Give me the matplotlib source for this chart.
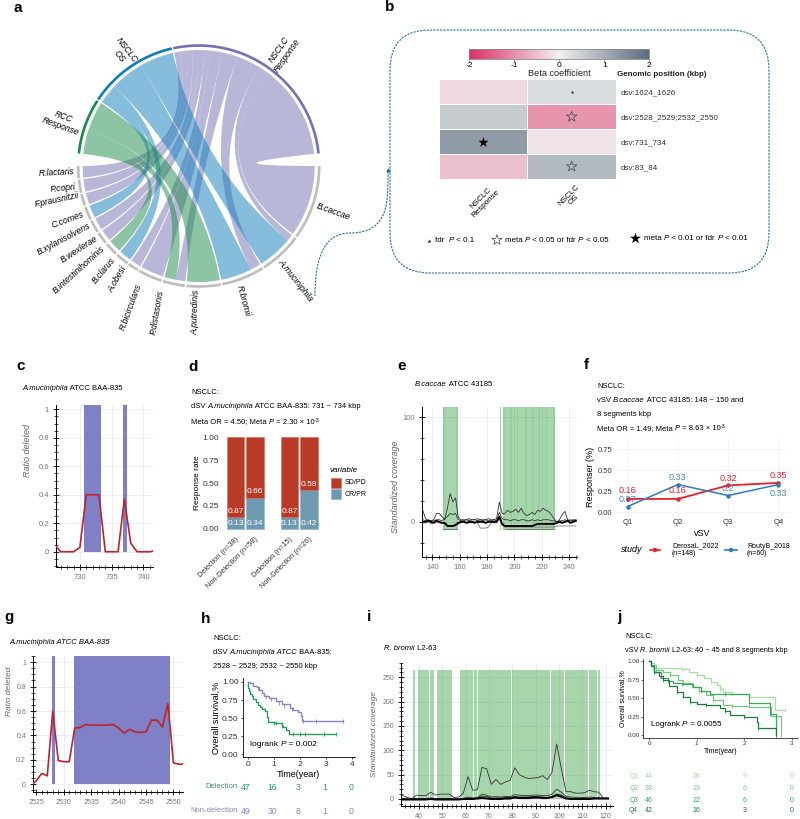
import numpy as np
import matplotlib
matplotlib.use('Agg')
import matplotlib.pyplot as plt
from matplotlib.colors import LinearSegmentedColormap
from matplotlib.patches import PathPatch, FancyBboxPatch
from matplotlib.path import Path
from matplotlib.ticker import MultipleLocator

plt.rcParams['font.family'] = ['Liberation Sans', 'DejaVu Sans']
plt.rcParams['font.size'] = 6
plt.rcParams['axes.unicode_minus'] = False

# ---- datos panel a: (estudio, ancho en la especie, ancho en el estudio)
species = ['B.caccae', 'A.muciniphila', 'R.bromii', 'A.putredinis', 'P.distasonis', 'R.bicirculans',
           'A.obesi', 'B.clarus', 'B.intestinihominis', 'B.wexlerae', 'B.xylanisolvens', 'C.comes',
           'F.prausnitzii', 'P.copri', 'R.lactaris']
species_links = [[('NR', 37, 48)], [('NR', 3.5, 5), ('OS', 18, 17)], [('NR', 5.5, 12), ('OS', 16, 17)], [('RCC', 17, 15)],
                 [('NR', 5, 8), ('RCC', 6, 6)], [('NR', 12, 6)], [('NR', 5.4, 3)], [('OS', 6.6, 5)], [('RCC', 6.6, 6)],
                 [('NR', 6.1, 3)], [('NR', 6.3, 3)], [('OS', 6.6, 5)], [('NR', 5.9, 3)], [('NR', 6.5, 3)], [('NR', 6, 3)]]
studies = ['RCC', 'OS', 'NR']
study_names = {'RCC': 'RCC\nResponse', 'OS': 'NSCLC\nOS', 'NR': 'NSCLC\nResponse'}

# ---- datos panel b
b_rows = ['dsv:1624_1626', 'dsv:2528_2529;2532_2550', 'dsv:731_734', 'dsv:83_84']
b_cols = ['NSCLC\nResponse', 'NSCLC\nOS']
b_beta = [[-0.25, 0.3], [0.55, -0.95], [1.25, -0.13], [-0.5, 0.8]]

# ---- datos panel c
c_x = [726, 727, 728, 729, 730, 731, 732, 733, 734, 735, 736, 737, 738, 739, 740, 741, 742]
c_y = [0.05, 0, 0, 0, 0.03, 0.4, 0.4, 0.4, 0, 0, 0, 0.37, 0.06, 0, 0, 0, 0.01]
c_spans = [(730.7, 733.3), (736.75, 737.4)]

# ---- datos panel d
d_groups = ['Delection (n=38)', 'Non-Delection (n=58)', 'Delection (n=15)', 'Non-Delection (n=26)']
d_crpr = [0.13, 0.34, 0.13, 0.42]
d_sdpd = [0.87, 0.66, 0.87, 0.58]

# ---- datos panel e
e_x = list(range(133, 246, 2))
e_upper = [11, 3, 1, 1, 2, 8, 8, 5, 2, 13, 27, 19, 23, 4, 2, 2, 2, 3, 2, 2, 3, 2, 2, 2, 3, 2, 2, 3,
           19, 8, 8, 11, 9, 10, 12, 9, 13, 8, 6, 7, 9, 7, 11, 10, 13, 11, 10, 7, 3, 0, 2, 7, 10, 2, 1, 2, 2]
e_mid = [2, 1, 2, 1, 1, 2, 2, 1, 3, 5, 8, 7, 8, 2, 1, 1, 2, 1, 2, 2, 1, 2, 1, 2, 1, 1, 2, 1,
         9, 3, 2, 2, 1, 2, 2, 1, 2, 2, 1, 1, 2, 1, 2, 1, 2, 2, 2, 1, 1, 0, 1, 1, 2, 1, 2, 1, 1]
e_low = [-1, -1, 0, -2, -1, 0, -1, -1, -2, -3, -4, -4, -4, -2, -1, 0, -1, -1, -1, 0, -1, -6, -6, -6, -5, -1, -1, -1,
         3, -3, -5, -5, -5, -5, -5, -5, -5, -5, -5, -5, -5, -5, -5, -5, -5, -5, -5, -5, -5, -4, -4, -4, -4, -4, -4, -4, -4]
e_thick = [0, 0, 1, 0, -1, 1, 0, -1, -1, -4, -4, -4, -3, -1, 0, 0, -1, 0, 0, -1, 0, 0, 0, -1, 0, 0, 0, 0,
           5, -2, -4, -4, -4, -4, -4, -4, -4, -4, -4, -4, -4, -3, -2, -2, -2, -2, -2, -2, -2, -1, 0, -1, 0, 1, -1, 0, 1]
e_floor_x = [148, 158, np.nan, 193, 229]
e_floor_y = [-7, -7, np.nan, -7, -7]
e_spans = [(147.7, 158.4), (189.5, 190), (192, 229.7)]
e_stripes = [(192, 193), (197, 198), (202, 203), (208, 209), (213, 214), (217, 219), (223, 224), (228, 229.7),
             (148, 149), (157, 158.4)]

# ---- datos panel f
f_q = ['Q1', 'Q2', 'Q3', 'Q4']
f_derosa = [0.16, 0.16, 0.32, 0.35]
f_routy = [0.07, 0.33, 0.2, 0.33]
f_derosa_txt = ['0.16', '0.16', '0.32', '0.35']
f_routy_txt = ['0.07', '0.33', '0.2', '0.33']

# ---- datos panel g
g_x = [2524.5] + list(range(2525, 2553))
g_y = [0.01, 0.03, 0.09, 0.07, 0.60, 0.195, 0.185, 0.185, 0.46, 0.465, 0.49, 0.485, 0.485, 0.485, 0.485,
       0.49, 0.46, 0.42, 0.45, 0.43, 0.425, 0.43, 0.525, 0.525, 0.47, 0.66, 0.175, 0.165, 0.165]
g_spans = [(2527.8, 2528.35), (2531.8, 2549.3)]

# ---- datos panel h
h_del_t = [0, 0.03, 0.06, 0.09, 0.15, 0.22, 0.3, 0.38, 0.47, 0.55, 0.66, 0.72, 0.79, 1.0, 1.23, 1.3, 1.36, 1.45, 1.59, 2.5, 3.36]
h_del_s = [1, 0.91, 0.87, 0.84, 0.8, 0.77, 0.72, 0.68, 0.65, 0.63, 0.6, 0.52, 0.44, 0.435, 0.425, 0.39, 0.37, 0.33, 0.28, 0.28, 0.28]
h_non_t = [0, 0.1, 0.2, 0.34, 0.45, 0.55, 0.62, 0.8, 1.1, 1.3, 1.6, 1.75, 1.93, 2.02, 2.06, 3.0, 3.65]
h_non_s = [1, 0.98, 0.95, 0.93, 0.89, 0.85, 0.81, 0.78, 0.73, 0.69, 0.64, 0.61, 0.58, 0.53, 0.46, 0.46, 0.46]
h_del_cens = [1.0, 1.1, 1.3, 1.75, 2.0, 2.2, 2.9, 3.36]
h_non_cens = [0.4, 0.7, 0.9, 1.2, 1.4, 1.7, 2.1, 2.6, 3.65]
h_at_risk_t = [0, 1, 2, 3, 4]
h_at_risk_del = [47, 16, 3, 1, 0]
h_at_risk_non = [49, 30, 8, 1, 0]

# ---- datos panel i
i_x = list(range(33, 122, 2))
i_a = [7, 3, 1, 8, 7, 7, 14, 8, 10, 10, 10, 3, 4, 12, 46, 18, 19, 65, 62, 30, 40, 30, 35, 38, 64, 50, 45, 42, 43, 44,
       48, 40, 55, 113, 62, 15, 15, 12, 12, 13, 18, 15, 14, 2, 2]
i_b = [1, 0, 0, 1, 1, 1, 2, 1, 1, 1, 1, 0, 0, 1, 4, 2, 3, 10, 8, 4, 5, 4, 5, 5, 9, 8, 7, 7, 8, 8, 7, 7, 10, 20, 14, 5, 4, 3, 3, 3, 4, 3, 3, 1, 1]
i_c = [0, 0, 0, 0, 0, 1, 1, 0, 1, 0, 1, 0, 0, 1, 2, 1, 2, 6, 5, 2, 2, 2, 3, 3, 5, 4, 4, 4, 5, 5, 4, 3, 5, 10, 8, 2, 1, 1, 1, 1, 1, 1, 1, 1, 1]
i_thick = [-1, -1, -1, -1, -1, -1, 0, -1, -1, -1, -1, -1, -1, 0, 0, 0, 1, 2, 1, 0, 0, 0, 1, 1, 3, 2, 2, 2, 3, 3, 2, 2, 4, 8, 5, 1, 0, 0, 0, 0, 0, 1, 1, 1, 1]
i_spans = [(37.4, 38.3), (39.6, 44.3), (44.6, 46.3), (47.6, 54.3), (57.6, 62.1), (62.4, 63.3), (63.6, 65),
           (65.3, 79.4), (79.7, 96.1), (96.6, 102.1), (102.6, 112.6), (112.9, 116.4), (116.7, 117.4)]

# ---- datos panel j
j_t1 = [0, 0.05, 0.1, 0.2, 0.7, 0.85, 1.0, 1.15, 1.3, 1.42, 1.5, 1.56, 1.75, 2.1, 2.6, 2.64, 2.85]
j_s1 = [1, 0.97, 0.91, 0.905, 0.90, 0.86, 0.81, 0.77, 0.72, 0.68, 0.62, 0.585, 0.55, 0.52, 0.52, 0.34, 0.34]
j_t2 = [0, 0.05, 0.15, 0.3, 0.44, 0.6, 0.72, 0.9, 1.05, 1.2, 1.35, 1.56, 1.75, 2.1, 2.55, 2.57, 2.78, 2.78]
j_s2 = [1, 0.95, 0.88, 0.85, 0.81, 0.75, 0.70, 0.65, 0.6, 0.54, 0.48, 0.405, 0.39, 0.385, 0.385, 0.26, 0.26, 0]
j_t3 = [0, 0.05, 0.1, 0.25, 0.4, 0.5, 0.7, 0.93, 1.1, 1.28, 1.6, 2.05, 2.1, 2.5, 2.55, 2.66, 2.66]
j_s3 = [1, 0.93, 0.85, 0.77, 0.73, 0.70, 0.69, 0.65, 0.6, 0.56, 0.555, 0.55, 0.44, 0.44, 0.29, 0.29, 0]
j_t4 = [0, 0.05, 0.1, 0.2, 0.3, 0.42, 0.58, 0.72, 0.86, 1.0, 1.2, 1.49, 1.6, 1.7, 2.0, 2.26, 2.3, 2.64, 2.66]
j_s4 = [1, 0.93, 0.85, 0.80, 0.75, 0.66, 0.58, 0.52, 0.45, 0.42, 0.40, 0.36, 0.33, 0.27, 0.25, 0.18, 0.09, 0.09, 0]
j_cols = ['#a3e0a0', '#72c87e', '#35a95c', '#1c7c3e']
j_names = ['Q1', 'Q2', 'Q3', 'Q4']
j_at_risk_t = [0, 1, 2, 3]
j_at_risk = [[44, 28, 9, 0], [33, 19, 6, 0], [46, 22, 6, 0], [42, 16, 3, 0]]

W, H = 800, 819
fig = plt.figure(figsize=(W / 100, H / 100), dpi=100)

# capa de fondo en pixeles
ov = fig.add_axes([0, 0, 1, 1])
ov.set_xlim(0, W)
ov.set_ylim(H, 0)
ov.axis('off')


def px_axes(l, t, r, b):
    return fig.add_axes([l / W, 1 - b / H, (r - l) / W, (b - t) / H], facecolor='none')


def txt(x, y, s, **kw):
    kw.setdefault('va', 'center')
    kw.setdefault('ha', 'left')
    return ov.text(x, y, s, **kw)


def text_w(s, **kw):
    # ancho de s con sus espacios: se mide entre dos letras
    r = fig.canvas.get_renderer()
    a = ov.text(0, 0, 'x' + s + 'x', **kw)
    b = ov.text(0, 0, 'xx', **kw)
    w = a.get_window_extent(r).width - b.get_window_extent(r).width
    a.remove()
    b.remove()
    return w


def rich(x, y, parts, fontsize=5.5):
    # parts: trozos de una linea; 'i' = cursiva, 's' = superindice
    for s, kind in parts:
        kw = {'fontsize': fontsize}
        dy = 0
        if kind == 'i':
            kw['style'] = 'italic'
        if kind == 's':
            kw['fontsize'] = fontsize * 0.7
            dy = -2
        txt(x, y + dy, s, **kw)
        x += text_w(s, **kw)


for lab, x, y in [('a', 13, 8), ('b', 385, 7), ('c', 16, 366), ('d', 188, 367), ('e', 397, 366), ('f', 584, 365),
                  ('g', 4, 617), ('h', 201, 619), ('i', 367, 617), ('j', 617, 617)]:
    txt(x, y, lab, fontsize=11, fontweight='bold')

# ---- a: diagrama de cuerdas
cx, cy = 198.7, 166
r_in, r_arc = 116, 120.5
GAP = 0.7
study_col = {'RCC': '#1a8a4a', 'OS': '#0f7cbc', 'NR': '#7570b3'}


def polar(ang, r):
    a = np.radians(ang)
    return cx + r * np.cos(a), cy + r * np.sin(a)


def arc_pts(a0, a1, r):
    return [polar(a, r) for a in np.linspace(a0, a1, 30)]


sp_tot = sum(l[1] for ls in species_links for l in ls)
sp_scale = (180 - GAP * (len(species) - 1)) / sp_tot
ang = 0
sp_arcs, link_ends = [], []
for name, ls in zip(species, species_links):
    a0 = ang
    for st, w, wt in ls:
        link_ends.append([name, st, ang, ang + w * sp_scale, wt])
        ang += w * sp_scale
    sp_arcs.append((a0, ang))
    ang += GAP

st_tot = {s: sum(l[2] for ls in species_links for l in ls if l[0] == s) for s in studies}
st_scale = (168 - GAP * 2) / sum(st_tot.values())
ang = 186
st_arcs = {}
for s in studies:
    st_arcs[s] = (ang, ang + st_tot[s] * st_scale)
    ang += st_tot[s] * st_scale + GAP

# cada estudio se reparte al reves que las especies para que las cintas no se retuerzan
for s in studies:
    pos = st_arcs[s][0]
    for le in reversed(link_ends):
        if le[1] == s:
            le.extend([pos, pos + le[4] * st_scale])
            pos += le[4] * st_scale

for s in ['NR', 'OS', 'RCC']:
    for name, st, s0, s1, wt, t0, t1 in link_ends:
        if st != s:
            continue
        a = arc_pts(s0, s1, r_in)
        b = arc_pts(t0, t1, r_in)
        verts = a + [(cx, cy)] + b + [(cx, cy), a[0]]
        codes = [Path.MOVETO] + [Path.LINETO] * (len(a) - 1) + [Path.CURVE3, Path.CURVE3] + \
                [Path.LINETO] * (len(b) - 1) + [Path.CURVE3, Path.CURVE3]
        ov.add_patch(PathPatch(Path(verts, codes), fc=study_col[s], alpha=0.5, lw=0, zorder=2))

for a0, a1 in sp_arcs:
    pts = np.array(arc_pts(a0, a1, r_arc))
    ov.plot(pts[:, 0], pts[:, 1], color='#bdbdbd', lw=1.9, solid_capstyle='butt', zorder=3)
for s in studies:
    pts = np.array(arc_pts(st_arcs[s][0], st_arcs[s][1], r_arc))
    ov.plot(pts[:, 0], pts[:, 1], color=study_col[s], lw=1.9, solid_capstyle='butt', zorder=3)

sp_lab_pos = [(333, 212, -20), (296, 280, -52), (243, 301, -75), (196, 312, 88), (157, 312, 80), (131, 307, 70),
              (117, 279, 60), (104, 270, 50), (79, 270, 42), (79, 249, 33), (64, 239, 28), (68, 220, 20),
              (57, 200, 12), (63, 188, 6), (57, 173, 3)]
for name, (x, y, rot) in zip(species, sp_lab_pos):
    txt(x, y, name, rotation=rot, ha='center', style='italic', fontsize=6.2, rotation_mode='anchor')
for s, (x, y, rot) in zip(studies, [(62, 122, -20), (123, 53, -52), (283, 53, 55)]):
    txt(x, y, study_names[s], rotation=rot, ha='center', style='italic', fontsize=6.2, rotation_mode='anchor',
        linespacing=1.2)

# ---- b: recuadro punteado y mapa de calor
box_col = '#2f6da8'
ov.add_patch(FancyBboxPatch((430, 70), 299, 163, boxstyle='round,pad=40,rounding_size=40', fc='none', ec=box_col,
                            lw=0.8, ls=(0, (2, 1))))
conn = Path([(315, 296), (315, 262), (322, 233), (350, 233), (390, 233), (388, 200), (388, 170)],
            [Path.MOVETO, Path.CURVE4, Path.CURVE4, Path.CURVE4, Path.CURVE4, Path.CURVE4, Path.CURVE4])
ov.add_patch(PathPatch(conn, fc='none', ec=box_col, lw=0.8, ls=(0, (2, 1))))
ov.scatter([388], [170], s=4, color=box_col, marker='^')

beta_cmap = LinearSegmentedColormap.from_list('beta', ['#dc2f63', '#f0f0f0', '#5a6a7e'])
ax = px_axes(438.7, 79.3, 616, 179)
mesh = ax.pcolormesh(np.array(b_beta), cmap=beta_cmap, vmin=-2, vmax=2, edgecolors='white', linewidth=0.4)
ax.set_ylim(4, 0)
ax.set_xticks([0.5, 1.5])
ax.set_xticklabels(b_cols, rotation=45, ha='center', va='top', fontsize=5.8, linespacing=1.0)
ax.set_yticks(np.arange(4) + 0.5)
ax.set_yticklabels(b_rows, fontsize=5.8, color='#333333')
ax.yaxis.tick_right()
ax.tick_params(length=0, pad=3)
for sp in ax.spines.values():
    sp.set_visible(False)
ax.scatter([1.5], [0.5], marker='*', s=7, color='#222222', lw=0)
ax.scatter([1.5, 1.5], [1.5, 3.5], marker='*', s=62, facecolor='none', edgecolor='#444444', lw=0.5)
ax.scatter([0.5], [2.5], marker='*', s=62, color='black', lw=0)

cax = px_axes(469.3, 48.7, 649.3, 59)
cb = fig.colorbar(mesh, cax=cax, orientation='horizontal')
cb.set_ticks([-2, -1, 0, 1, 2])
cb.ax.tick_params(labelsize=6, length=2, pad=0.5, width=0.4, color='#555555')
cb.outline.set_edgecolor('#888888')
cb.outline.set_linewidth(0.6)
txt(559, 74, 'Beta coefficient', ha='center', fontsize=6.6, color='#222222')
txt(617, 74, 'Genomic position (kbp)', fontweight='bold', fontsize=5.8, color='#222222')

ov.scatter([429], [241], marker='*', s=10, color='#222222', lw=0)
rich(435, 241, [('fdr  ', ''), ('P', 'i'), (' < 0.1', '')], 5.8)
ov.scatter([497], [240], marker='*', s=62, facecolor='none', edgecolor='#444444', lw=0.5)
rich(505, 240, [('meta ', ''), ('P', 'i'), (' < 0.05 or fdr ', ''), ('P', 'i'), (' < 0.05', '')], 5.8)
ov.scatter([635], [238], marker='*', s=70, color='black', lw=0)
rich(644, 238, [('meta ', ''), ('P', 'i'), (' < 0.01 or fdr ', ''), ('P', 'i'), (' < 0.01', '')], 5.8)


def bokeh_style(ax, xmaj, xmin, ymaj, ymin):
    ax.xaxis.set_major_locator(MultipleLocator(xmaj))
    ax.xaxis.set_minor_locator(MultipleLocator(xmin))
    ax.yaxis.set_major_locator(MultipleLocator(ymaj))
    ax.yaxis.set_minor_locator(MultipleLocator(ymin))
    ax.grid(True, which='major', color='#ebebf0', lw=0.6, zorder=0)
    ax.set_axisbelow(True)
    ax.spines['top'].set_visible(False)
    ax.spines['right'].set_visible(False)
    ax.spines['left'].set_linewidth(0.7)
    ax.spines['bottom'].set_linewidth(0.7)
    ax.tick_params(which='major', direction='inout', length=4, width=0.6, labelsize=5.5, labelcolor='#777777', pad=3)
    ax.tick_params(which='minor', direction='inout', length=2.4, width=0.5)


# ---- c
ax = px_axes(55.7, 405, 153, 567)
ax.set_xlim(726.2, 741.5)
ax.set_ylim(-0.107, 1.03)
bokeh_style(ax, 5, 1, 0.2, 0.05)
for a0, a1 in c_spans:
    ax.fill_betweenx([0, 1.03], a0, a1, color='#7f80c6', lw=0, zorder=1)
ax.plot(c_x, c_y, color='#c0222b', lw=1.2, zorder=3)
ax.set_yticks([0, 0.2, 0.4, 0.6, 0.8, 1])
ax.set_yticklabels(['0', '0.2', '0.4', '0.6', '0.8', '1'])
ax.set_ylabel('Ratio deleted', style='italic', color='#666666', fontsize=6.5)
ax.yaxis.set_label_coords(-0.244, 0.72)
rich(22, 388, [('A.muciniphila', 'i'), (' ATCC BAA-835', '')])

# ---- d
txt(191, 393, 'NSCLC:', fontsize=5.5)
rich(191, 407, [('dSV ', ''), ('A.muciniphila', 'i'), (' ATCC BAA-835: 731 ~ 734 kbp', '')])
rich(191, 422, [('Meta OR = 4.50; Meta ', ''), ('P', 'i'), (' = 2.30 × 10', ''), ('-3', 's')])
ax = px_axes(222, 433, 322, 533)
d_pos = [0, 1, 2.79, 3.8]
ax.bar(d_pos, d_crpr, width=0.91, color='#6d9ab0', edgecolor='#8fb2c4', lw=0.4)
ax.bar(d_pos, d_sdpd, width=0.91, bottom=d_crpr, color='#b93a26', edgecolor='#cf6a58', lw=0.4)
for p, lo, hi in zip(d_pos, d_crpr, d_sdpd):
    ax.text(p, 0.065, f'{lo:.2f}', color='white', ha='center', va='center', fontsize=6)
    ax.text(p, lo + 0.065, f'{hi:.2f}', color='white', ha='center', va='center', fontsize=6)
ax.set_xlim(-0.7, 4.48)
ax.set_ylim(-0.0436, 1.0436)
ax.set_xticks(d_pos)
ax.set_xticklabels(d_groups, rotation=45, ha='right', va='top', rotation_mode='anchor', fontsize=5.3, color='#333333')
ax.set_yticks([0, 0.25, 0.5, 0.75, 1])
ax.set_yticklabels(['0.00', '0.25', '0.50', '0.75', '1.00'], fontsize=6, color='#333333')
ax.tick_params(length=0, pad=2)
ax.set_ylabel('Response rate', fontsize=6, labelpad=1)
for sp in ax.spines.values():
    sp.set_visible(False)
txt(330, 471, 'variable', style='italic', fontsize=5.8)
ov.bar([336, 336], [10, 10], width=10, bottom=[478, 489], color=['#b93a26', '#6d9ab0'],
       edgecolor=['#cf6a58', '#8fb2c4'], lw=0.4)
txt(345, 483, 'SD/PD', fontsize=5)
txt(345, 494, 'CR/PR', fontsize=5)

# ---- e
ax = px_axes(421.7, 407, 576.7, 557.3)
ax.set_xlim(132.2, 245.6)
ax.set_ylim(-34, 110)
bokeh_style(ax, 20, 5, 100, 20)
for a0, a1 in e_spans:
    ax.fill_betweenx([-8, 110], a0, a1, color='#2e9e3c', alpha=0.42, lw=0, zorder=1)
for a0, a1 in e_stripes:
    ax.fill_betweenx([-8, 110], a0, a1, color='#2e9e3c', alpha=0.12, lw=0, zorder=1)
ax.plot(e_x, e_low, color='#777777', lw=0.6, zorder=3)
ax.plot(e_x, e_upper, color='#333333', lw=0.6, zorder=3)
ax.plot(e_x, e_mid, color='#333333', lw=0.6, zorder=3)
ax.plot(e_floor_x, e_floor_y, color='#555555', lw=0.5, zorder=3)
ax.plot(e_x, e_thick, color='black', lw=1.4, zorder=4)
ax.set_yticks([0, 100])
ax.set_ylabel('Standardized coverage', style='italic', color='#666666', fontsize=6.5)
ax.yaxis.set_label_coords(-0.14, 0.47)
rich(415, 385, [('B.caccae', 'i'), (' ATCC 43185', '')])

# ---- f
txt(597, 386, 'NSCLC:', fontsize=5.5)
rich(597, 400, [('vSV ', ''), ('B.caccae', 'i'), (' ATCC 43185: 148 ~ 150 and', '')])
txt(597, 415, '8 segments kbp', fontsize=5.5)
rich(597, 429, [('Meta OR = 1.49; Meta ', ''), ('P', 'i'), (' = 8.63 × 10', ''), ('-3', 's')])
ax = px_axes(615, 438, 790, 516.7)
ax.plot(range(4), f_derosa, color='#e8212c', lw=1.3, marker='o', ms=2.2)
ax.plot(range(4), f_routy, color='#2f7dc0', lw=1.1, marker='o', ms=2.2)
f_red_off = [8, 8, 7, 7]
f_blue_off = [7, 7, 7, -9]
for i in range(4):
    ax.annotate(f_derosa_txt[i], (i, f_derosa[i]), xytext=(0, f_red_off[i]), textcoords='offset pixels',
                ha='center', va='center', color='#e8212c', fontsize=6.5)
    ax.annotate(f_routy_txt[i], (i, f_routy[i]), xytext=(0, f_blue_off[i]), textcoords='offset pixels',
                ha='center', va='center', color='#4a86c5', fontsize=6.5)
ax.set_xlim(-0.25, 3.23)
ax.set_ylim(-0.05, 0.88)
ax.set_xticks(range(4))
ax.set_xticklabels(f_q, fontsize=5.5, color='#333333')
ax.set_yticks([0, 0.25, 0.5, 0.75])
ax.set_yticklabels(['0.00', '0.25', '0.50', '0.75'], fontsize=5.5, color='#333333')
ax.tick_params(length=0, pad=2)
ax.grid(True, color='#f0f0f0', lw=0.5)
ax.set_axisbelow(True)
for sp in ax.spines.values():
    sp.set_visible(False)
ax.set_ylabel('Responser (%)', fontsize=6.5, labelpad=2)
ax.set_xlabel('vSV', fontsize=6.5, labelpad=2)
txt(621, 550, 'study', style='italic', fontsize=6.5)
ov.plot([650, 660], [550, 550], color='#e8212c', lw=1.2)
ov.plot([725, 737], [550, 550], color='#2f7dc0', lw=1.2)
ov.scatter([655, 731], [550, 550], color=['#e8212c', '#2f7dc0'], s=5)
txt(672, 550, 'DerosaL_2022\n(n=148)', fontsize=5, linespacing=1.1)
txt(747, 550, 'RoutyB_2018\n(n=60)', fontsize=5, linespacing=1.1)

# ---- g
ax = px_axes(33, 656, 183.3, 791.7)
ax.set_xlim(2524.4, 2551.8)
ax.set_ylim(-0.06, 1.05)
bokeh_style(ax, 5, 1, 0.2, 0.05)
for a0, a1 in g_spans:
    ax.fill_betweenx([0, 1.05], a0, a1, color='#7f80c6', lw=0, zorder=1)
ax.plot(g_x, g_y, color='#c0222b', lw=1.2, zorder=3)
ax.set_yticks([0, 0.2, 0.4, 0.6, 0.8, 1])
ax.set_yticklabels(['0', '0.2', '0.4', '0.6', '0.8', '1'])
ax.tick_params(which='major', labelsize=5)
ax.set_ylabel('Ratio deleted', style='italic', color='#666666', fontsize=6)
ax.yaxis.set_label_coords(-0.133, 0.74)
txt(9, 643, 'A.muciniphila ATCC BAA-835', style='italic', fontsize=5.5)

# ---- h
txt(213, 638, 'NSCLC:', fontsize=5.5)
rich(213, 653, [('dSV ', ''), ('A.muciniphila ATCC', 'i'), (' BAA-835:', '')])
txt(213, 667, '2528 ~ 2529; 2532 ~ 2550 kbp', fontsize=5.5)
ax = px_axes(242.7, 678, 355, 757)
col_del, col_non = '#2f9a5e', '#8a83c4'
ax.step(h_del_t, h_del_s, where='post', color=col_del, lw=1)
ax.step(h_non_t, h_non_s, where='post', color=col_non, lw=1)
ax.plot(h_del_cens, np.interp(h_del_cens, h_del_t, h_del_s), ls='', marker='|', ms=3, mew=0.6, color=col_del)
ax.plot(h_non_cens, np.interp(h_non_cens, h_non_t, h_non_s), ls='', marker='|', ms=3, mew=0.6, color=col_non)
ax.set_xlim(-0.19, 4.1)
ax.set_ylim(-0.04, 1.055)
ax.set_xticks(range(5))
ax.set_yticks([0, 0.25, 0.5, 0.75, 1])
ax.set_yticklabels(['0.00', '0.25', '0.50', '0.75', '1.00'])
ax.tick_params(labelsize=6, length=1.5, width=0.5, pad=1.5, labelcolor='#333333')
ax.spines['top'].set_visible(False)
ax.spines['right'].set_visible(False)
ax.spines['left'].set_linewidth(0.6)
ax.spines['bottom'].set_linewidth(0.6)
ax.set_xlabel('Time(year)', fontsize=6.5, labelpad=1)
ax.set_ylabel('Overall survival,%', fontsize=6.5, labelpad=1)
rich(250, 745, [('logrank ', ''), ('P', 'i'), (' = 0.002', '')], 6)
for yy, nm, vals, col in [(787, 'Delection', h_at_risk_del, col_del), (811, 'Non-delection', h_at_risk_non, col_non)]:
    txt(238, yy, nm, ha='right', color=col, fontsize=5.5)
    for t, v in zip(h_at_risk_t, vals):
        txt(246 + t * 26.2, yy, str(v), ha='center', color=col, fontsize=6.2)

# ---- i
ax = px_axes(401, 662.7, 612.7, 806)
ax.set_xlim(32.3, 123)
ax.set_ylim(-14.4, 280)
bokeh_style(ax, 10, 2, 50, 10)
for a0, a1 in i_spans:
    ax.fill_betweenx([-1, 264], a0, a1, color='#2e9e3c', alpha=0.42, lw=0, zorder=1)
ax.plot(i_x, i_a, color='#333333', lw=0.6, zorder=3)
ax.plot(i_x, i_b, color='#333333', lw=0.6, zorder=3)
ax.plot(i_x, i_c, color='#333333', lw=0.7, zorder=3)
ax.plot(i_x, i_thick, color='black', lw=1.5, zorder=4)
ax.set_xticks(range(40, 121, 10))
ax.tick_params(which='major', labelsize=5)
ax.set_ylabel('Standardized coverage', style='italic', color='#666666', fontsize=6)
ax.yaxis.set_label_coords(-0.109, 0.5)
rich(384, 648, [('R. bromii', 'i'), (' L2-63', '')])

# ---- j
txt(625, 636, 'NSCLC:', fontsize=5.5)
rich(625, 651, [('vSV ', ''), ('R. bromii', 'i'), (' L2-63: 40 ~ 45 and 8 segments kbp', '')], 5.3)
ax = px_axes(642.7, 659, 798, 738.3)
for (t, s), col in zip([(j_t1, j_s1), (j_t2, j_s2), (j_t3, j_s3), (j_t4, j_s4)], j_cols):
    ax.step(t, s, where='post', color=col, lw=0.9)
    ts = np.array(t)[2::2]
    ax.plot(ts, np.interp(ts, t, s), ls='', marker='|', ms=2.5, mew=0.5, color=col)
ax.set_xlim(-0.133, 3.13)
ax.set_ylim(-0.045, 1.03)
ax.set_xticks(range(4))
ax.set_yticks([0, 0.25, 0.5, 0.75, 1])
ax.set_yticklabels(['0.00', '0.25', '0.50', '0.75', '1.00'])
ax.tick_params(labelsize=4.5, length=1.2, width=0.4, pad=1, labelcolor='#333333')
ax.spines['top'].set_visible(False)
ax.spines['right'].set_visible(False)
ax.spines['left'].set_linewidth(0.5)
ax.spines['bottom'].set_linewidth(0.5)
ax.set_xlabel('Time(year)', fontsize=5, labelpad=1)
ax.set_ylabel('Overall survival,%', fontsize=5, labelpad=1)
rich(651, 724, [('Logrank ', ''), ('P', 'i'), (' = 0.0055', '')], 5.8)
for yy, nm, vals, col in zip([777, 788.7, 800, 811], j_names, j_at_risk, j_cols):
    txt(638, yy, nm, ha='right', color=col, fontsize=4.8)
    for t, v in zip(j_at_risk_t, vals):
        txt(649 + t * 47.6, yy, str(v), ha='center', color=col, fontsize=5)

fig.savefig('out.png', dpi=100)
